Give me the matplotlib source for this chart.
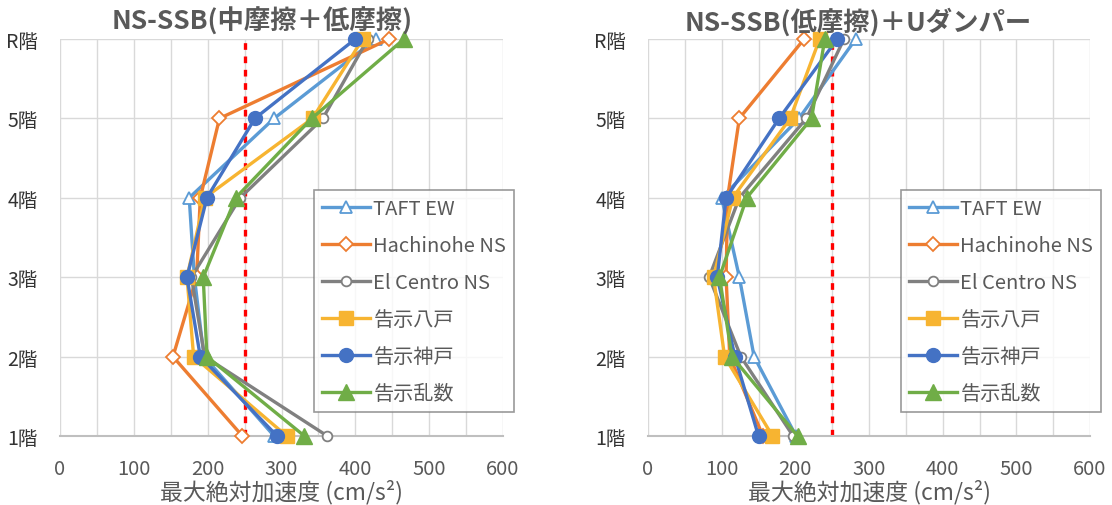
import matplotlib
matplotlib.use("Agg")
import matplotlib.pyplot as plt
from matplotlib.ticker import MultipleLocator

plt.rcParams['font.family'] = ['Noto Sans CJK JP', 'DejaVu Sans']

floors = ["1階", "2階", "3階", "4階", "5階", "R階"]
floor_pos = [1, 2, 3, 4, 5, 6]

series_names = ["TAFT EW", "Hachinohe NS", "El Centro NS", "告示八戸", "告示神戸", "告示乱数"]

# Left chart: NS-SSB(中摩擦＋低摩擦), values from 1階 to R階
left_taft = [290, 195, 182, 175, 290, 428]
left_hachi = [247, 153, 185, 190, 216, 446]
left_elc = [362, 196, 178, 244, 356, 417]
left_kh = [307, 181, 172, 196, 342, 410]
left_kk = [294, 190, 172, 199, 264, 400]
left_kr = [331, 199, 194, 238, 341, 466]

# Right chart: NS-SSB(低摩擦)＋Uダンパー
right_taft = [201, 144, 124, 100, 205, 282]
right_hachi = [156, 111, 106, 108, 124, 212]
right_elc = [197, 126, 83, 124, 215, 266]
right_kh = [169, 104, 89, 115, 193, 233]
right_kk = [150, 118, 94, 106, 178, 257]
right_kr = [203, 114, 97, 134, 222, 240]

limit_value = 250
titles = ["NS-SSB(中摩擦＋低摩擦)", "NS-SSB(低摩擦)＋Uダンパー"]
xlabel = "最大絶対加速度 (cm/s²)"

colors = ["#5B9BD5", "#ED7D31", "#808080", "#F7B431", "#4472C4", "#70AD47"]
styles = [
    dict(marker="^", ms=9, mfc="white", mew=1.3),
    dict(marker="D", ms=7, mfc="white", mew=1.3),
    dict(marker="o", ms=7, mfc="white", mew=1.3),
    dict(marker="s", ms=10, mew=1),
    dict(marker="o", ms=10, mew=1),
    dict(marker="^", ms=11, mew=1),
]

text_color = "#595959"
fig = plt.figure(figsize=(11.12, 5.06), dpi=100)

axes_px = [(60, 503), (648, 1090)]
legend_px = [(314, 191), (901, 191)]
title_px = [262, 858]
data_sets = [
    [left_taft, left_hachi, left_elc, left_kh, left_kk, left_kr],
    [right_taft, right_hachi, right_elc, right_kh, right_kk, right_kr],
]
W, H = 1112, 506
for i in range(2):
    x0, x1 = axes_px[i]
    ax = fig.add_axes([x0 / W, 1 - 437 / H, (x1 - x0) / W, (437 - 40) / H])
    for name, vals, c, st in zip(series_names, data_sets[i], colors, styles):
        ax.plot(vals, floor_pos, color=c, lw=2.4, mec=c, label=name,
                clip_on=False, zorder=3, **st)
    ax.axvline(limit_value, color="#FF0000", lw=2.4, ls=(0, (2, 2)), zorder=2)
    ax.set_xlim(0, 600)
    ax.set_ylim(1, 6)
    ax.xaxis.set_major_locator(MultipleLocator(100))
    ax.xaxis.set_minor_locator(MultipleLocator(50))
    ax.set_yticks(floor_pos)
    ax.set_yticklabels(floors)
    ax.grid(True, which="both", axis="x", color="#D9D9D9", lw=1)
    ax.grid(True, which="major", axis="y", color="#D9D9D9", lw=1)
    ax.set_axisbelow(True)
    for s in ["top", "right", "left"]:
        ax.spines[s].set_visible(False)
    ax.spines["bottom"].set_color("#BFBFBF")
    ax.spines["bottom"].set_linewidth(1.5)
    ax.tick_params(axis="both", which="both", length=0)
    ax.tick_params(axis="x", pad=16, labelsize=14.5, labelcolor=text_color)
    ax.tick_params(axis="y", pad=16, labelsize=14, labelcolor="#333333")
    ax.set_xlabel(xlabel, fontsize=16.5, color=text_color, labelpad=0)
    fig.text(title_px[i] / W, 1 - 22 / H, titles[i], fontsize=19,
             fontweight="bold", color=text_color, ha="center", va="center")
    lx, ly = legend_px[i]
    leg = ax.legend(loc="upper left", bbox_to_anchor=(lx / W, 1 - ly / H),
                    bbox_transform=fig.transFigure, fontsize=14.5,
                    frameon=True, fancybox=False, edgecolor="#808080",
                    handlelength=2.4, handletextpad=0.15, labelspacing=0.79,
                    borderpad=0.4, borderaxespad=0)
    leg.get_frame().set_linewidth(1.2)
    for t in leg.get_texts():
        t.set_color(text_color)

fig.savefig("out.png", dpi=100)
